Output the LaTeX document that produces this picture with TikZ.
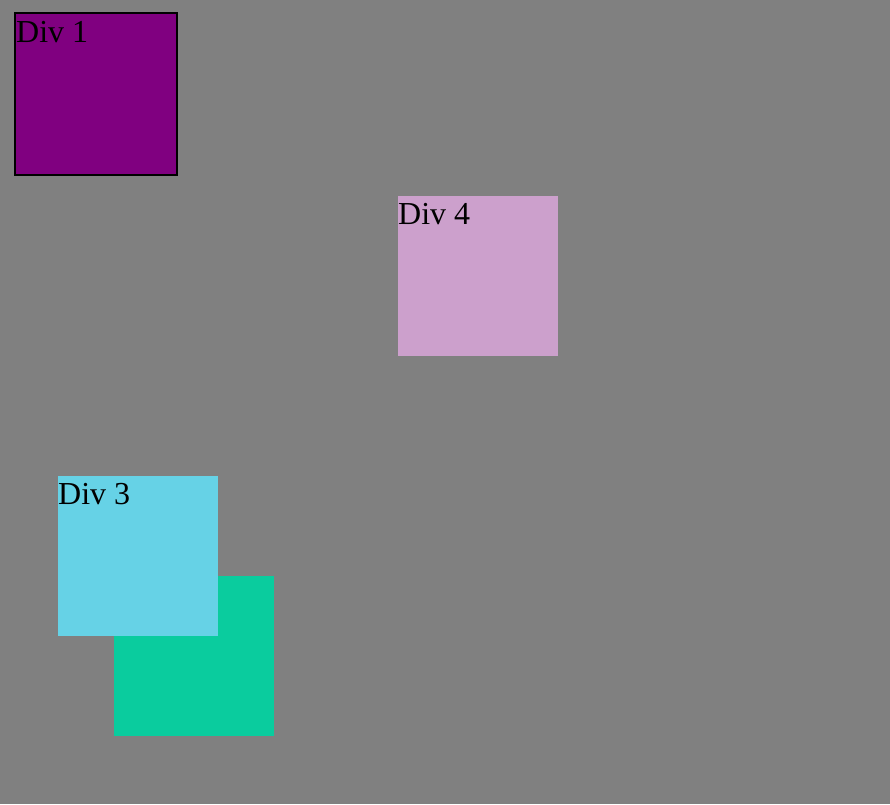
\documentclass[tikz,border=0pt]{standalone}
\usepackage{fontspec}
\setmainfont{Liberation Serif}
\definecolor{bggray}{HTML}{808080}
\definecolor{divpurple}{HTML}{800080}
\definecolor{divplum}{HTML}{CCA0CC}
\definecolor{divcyan}{HTML}{66D2E6}
\definecolor{divgreen}{HTML}{0ACC9E}
\tikzset{
  divlabel/.style={anchor=base west, inner sep=0pt, font=\fontsize{32}{38}\selectfont, text=black},
}
\begin{document}
\begin{tikzpicture}[x=1pt,y=-1pt]
\fill[bggray] (0,0) rectangle (890,804);
\useasboundingbox (0,0) rectangle (890,804);
% Div 1
\filldraw[fill=divpurple, draw=black, line width=2pt] (15,13) rectangle (177,175);
\node[divlabel] (d1) at (16,42) {Div 1};
% Div 4
\fill[divplum] (398,196) rectangle (558,356);
\node[divlabel] (d4) at (398,224) {Div 4};
% green box
\fill[divgreen] (114,576) rectangle (274,736);
% Div 3
\fill[divcyan] (58,476) rectangle (218,636);
\node[divlabel] (d3) at (58,504) {Div 3};
\end{tikzpicture}
\end{document}
